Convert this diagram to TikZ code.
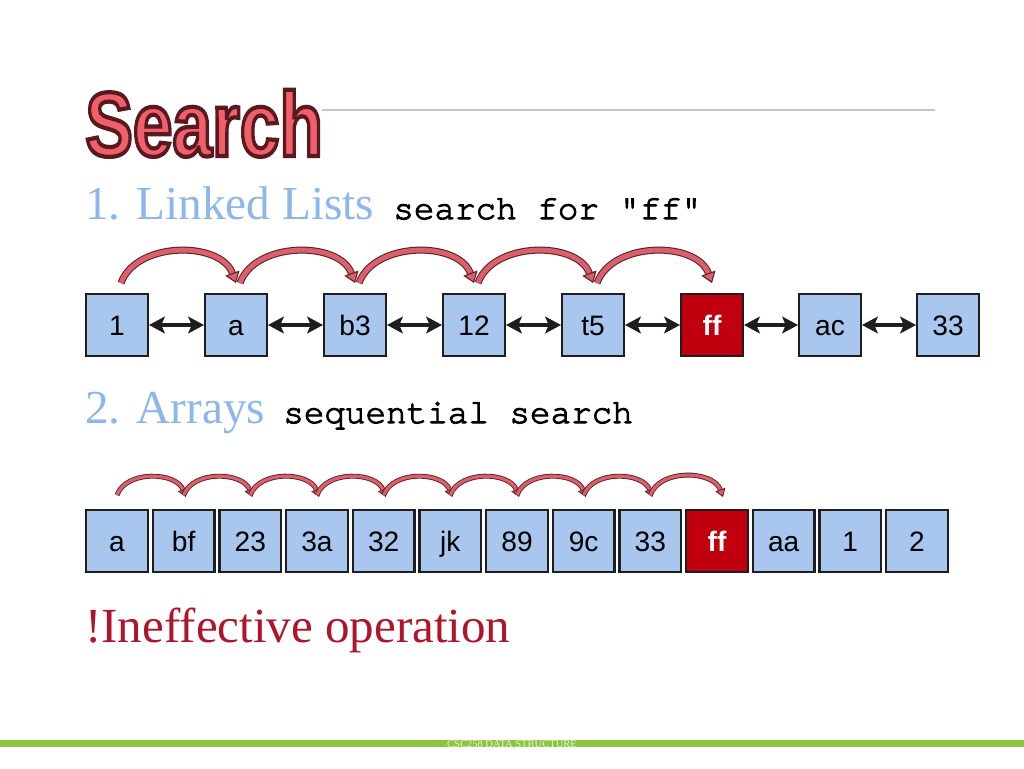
\documentclass[tikz,border=0pt]{standalone}
\usepackage{fontspec}
\setmainfont{Liberation Serif}
\newfontfamily\labelfont{Liberation Sans}
\newfontfamily\codefont[FakeBold=3,Ligatures={NoCommon,NoRequired}]{texgyrecursor-regular.otf}
\newfontfamily\titlefont{Liberation Sans Bold}
\usetikzlibrary{arrows.meta}

\definecolor{boxblue}{HTML}{A8C6EE}
\definecolor{boxline}{HTML}{1E1E1E}
\definecolor{hitred}{HTML}{C0000F}
\definecolor{headblue}{HTML}{8DB6EA}
\definecolor{warnred}{HTML}{B0142A}
\definecolor{arcpink}{HTML}{D9606C}
\definecolor{arcdark}{HTML}{5E1E22}
\definecolor{titlepink}{HTML}{F0606A}
\definecolor{bargreen}{HTML}{8CC63F}
\definecolor{footgreen}{HTML}{E4F2D0}
\definecolor{rulegray}{HTML}{C8C8C8}

\tikzset{
  box/.style={draw=boxline, line width=1.4pt, fill=boxblue, minimum size=1.23cm, inner sep=0pt,
    text height=11.5pt, text depth=0pt, font=\labelfont\fontsize{16}{16}\selectfont},
  hit/.style={box, fill=hitred, text=white, font=\labelfont\bfseries\fontsize{16}{16}\selectfont},
  link/.style={{Stealth[length=9pt,width=9.5pt,inset=2pt]}-{Stealth[length=9pt,width=9.5pt,inset=2pt]}, line width=2pt, draw=boxline},
  hop/.style={-{Triangle[length=6pt,width=8.5pt,fill=arcpink,line width=0.6pt]}, draw=arcdark, line width=0.6pt,
    double=arcpink, double distance=2.8pt},
  smallhop/.style={-{Triangle[length=4.5pt,width=6pt,fill=arcpink,line width=0.5pt]}, draw=arcdark, line width=0.5pt,
    double=arcpink, double distance=1.8pt},
  words/.style={anchor=base west, inner sep=0pt},
  titletext/.style={words, font=\titlefont\fontsize{52}{52}\selectfont}
}

% outlined title letters: fill, then stroke in dark red
\newcommand\outlined[1]{\special{pdf:literal direct 2 Tr 2.4 w 0.35 0.1 0.12 RG}#1\special{pdf:literal direct 0 Tr}}

\begin{document}
\begin{tikzpicture}[x=0.02cm,y=-0.02cm]
\fill[white] (0,0) rectangle (1024,768);
\useasboundingbox (0,0) rectangle (1024,768);

% title
\draw[rulegray, line width=0.8pt] (322,110) -- (935,110);
\node[titletext, text=titlepink] (title) at (85,156) {\scalebox{0.78}[1]{\outlined{Search}}};

% linked list
\node[words, text=headblue, font=\fontsize{26.9}{27}\selectfont] (head1) at (85,219) {1. Linked Lists};
\node[words, font=\codefont\fontsize{19.5}{20}\selectfont] (code1) at (393,219) {search for "ff"};

\node[box] (ll1) at (117,325) {1};
\node[box] (ll2) at (236,325) {a};
\node[box] (ll3) at (355,325) {b3};
\node[box] (ll4) at (474,325) {12};
\node[box] (ll5) at (593,325) {t5};
\node[hit] (ll6) at (712,325) {ff};
\node[box] (ll7) at (830,325) {ac};
\node[box] (ll8) at (948,325) {33};

\draw[link] (ll1) -- (ll2);
\draw[link] (ll2) -- (ll3);
\draw[link] (ll3) -- (ll4);
\draw[link] (ll4) -- (ll5);
\draw[link] (ll5) -- (ll6);
\draw[link] (ll6) -- (ll7);
\draw[link] (ll7) -- (ll8);

\draw[hop] ([xshift=0.08cm,yshift=0.2cm]ll1.north) to[out=70,in=110] ([yshift=0.2cm]ll2.north);
\draw[hop] ([xshift=0.08cm,yshift=0.2cm]ll2.north) to[out=70,in=110] ([yshift=0.2cm]ll3.north);
\draw[hop] ([xshift=0.08cm,yshift=0.2cm]ll3.north) to[out=70,in=110] ([yshift=0.2cm]ll4.north);
\draw[hop] ([xshift=0.08cm,yshift=0.2cm]ll4.north) to[out=70,in=110] ([yshift=0.2cm]ll5.north);
\draw[hop] ([xshift=0.08cm,yshift=0.2cm]ll5.north) to[out=70,in=110] ([yshift=0.2cm]ll6.north);

% array
\node[words, text=headblue, font=\fontsize{26.9}{27}\selectfont] (head2) at (85,423) {2. Arrays};
\node[words, font=\codefont\fontsize{19.5}{20}\selectfont] (code2) at (283,423) {sequential search};

\node[box] (ar1) at (117,541) {a};
\node[box] (ar2) at (183.7,541) {bf};
\node[box] (ar3) at (250.3,541) {23};
\node[box] (ar4) at (317,541) {3a};
\node[box] (ar5) at (383.7,541) {32};
\node[box] (ar6) at (450.3,541) {jk};
\node[box] (ar7) at (517,541) {89};
\node[box] (ar8) at (583.7,541) {9c};
\node[box] (ar9) at (650.3,541) {33};
\node[hit] (ar10) at (717,541) {ff};
\node[box] (ar11) at (783.7,541) {aa};
\node[box] (ar12) at (850.3,541) {1};
\node[box] (ar13) at (917,541) {2};

\draw[smallhop] ([yshift=0.28cm]ar1.north) to[out=70,in=110] ([xshift=0.04cm,yshift=0.24cm]ar2.north);
\draw[smallhop] ([yshift=0.28cm]ar2.north) to[out=70,in=110] ([xshift=0.04cm,yshift=0.24cm]ar3.north);
\draw[smallhop] ([yshift=0.28cm]ar3.north) to[out=70,in=110] ([xshift=0.04cm,yshift=0.24cm]ar4.north);
\draw[smallhop] ([yshift=0.28cm]ar4.north) to[out=70,in=110] ([xshift=0.04cm,yshift=0.24cm]ar5.north);
\draw[smallhop] ([yshift=0.28cm]ar5.north) to[out=70,in=110] ([xshift=0.04cm,yshift=0.24cm]ar6.north);
\draw[smallhop] ([yshift=0.28cm]ar6.north) to[out=70,in=110] ([xshift=0.04cm,yshift=0.24cm]ar7.north);
\draw[smallhop] ([yshift=0.28cm]ar7.north) to[out=70,in=110] ([xshift=0.04cm,yshift=0.24cm]ar8.north);
\draw[smallhop] ([yshift=0.28cm]ar8.north) to[out=70,in=110] ([xshift=0.04cm,yshift=0.24cm]ar9.north);
\draw[smallhop] ([yshift=0.28cm]ar9.north) to[out=70,in=110] ([xshift=0.12cm,yshift=0.24cm]ar10.north);

\node[words, text=warnred, font=\fontsize{27.9}{28}\selectfont] (warn) at (85,642) {!Ineffective operation};

% footer
\fill[bargreen] (0,740) rectangle (1024,747);
\node[text=footgreen, inner sep=0pt, font=\fontsize{6}{6}\selectfont] (foot) at (512,744) {CSC258 DATA STRUCTURE};
\end{tikzpicture}
\end{document}
